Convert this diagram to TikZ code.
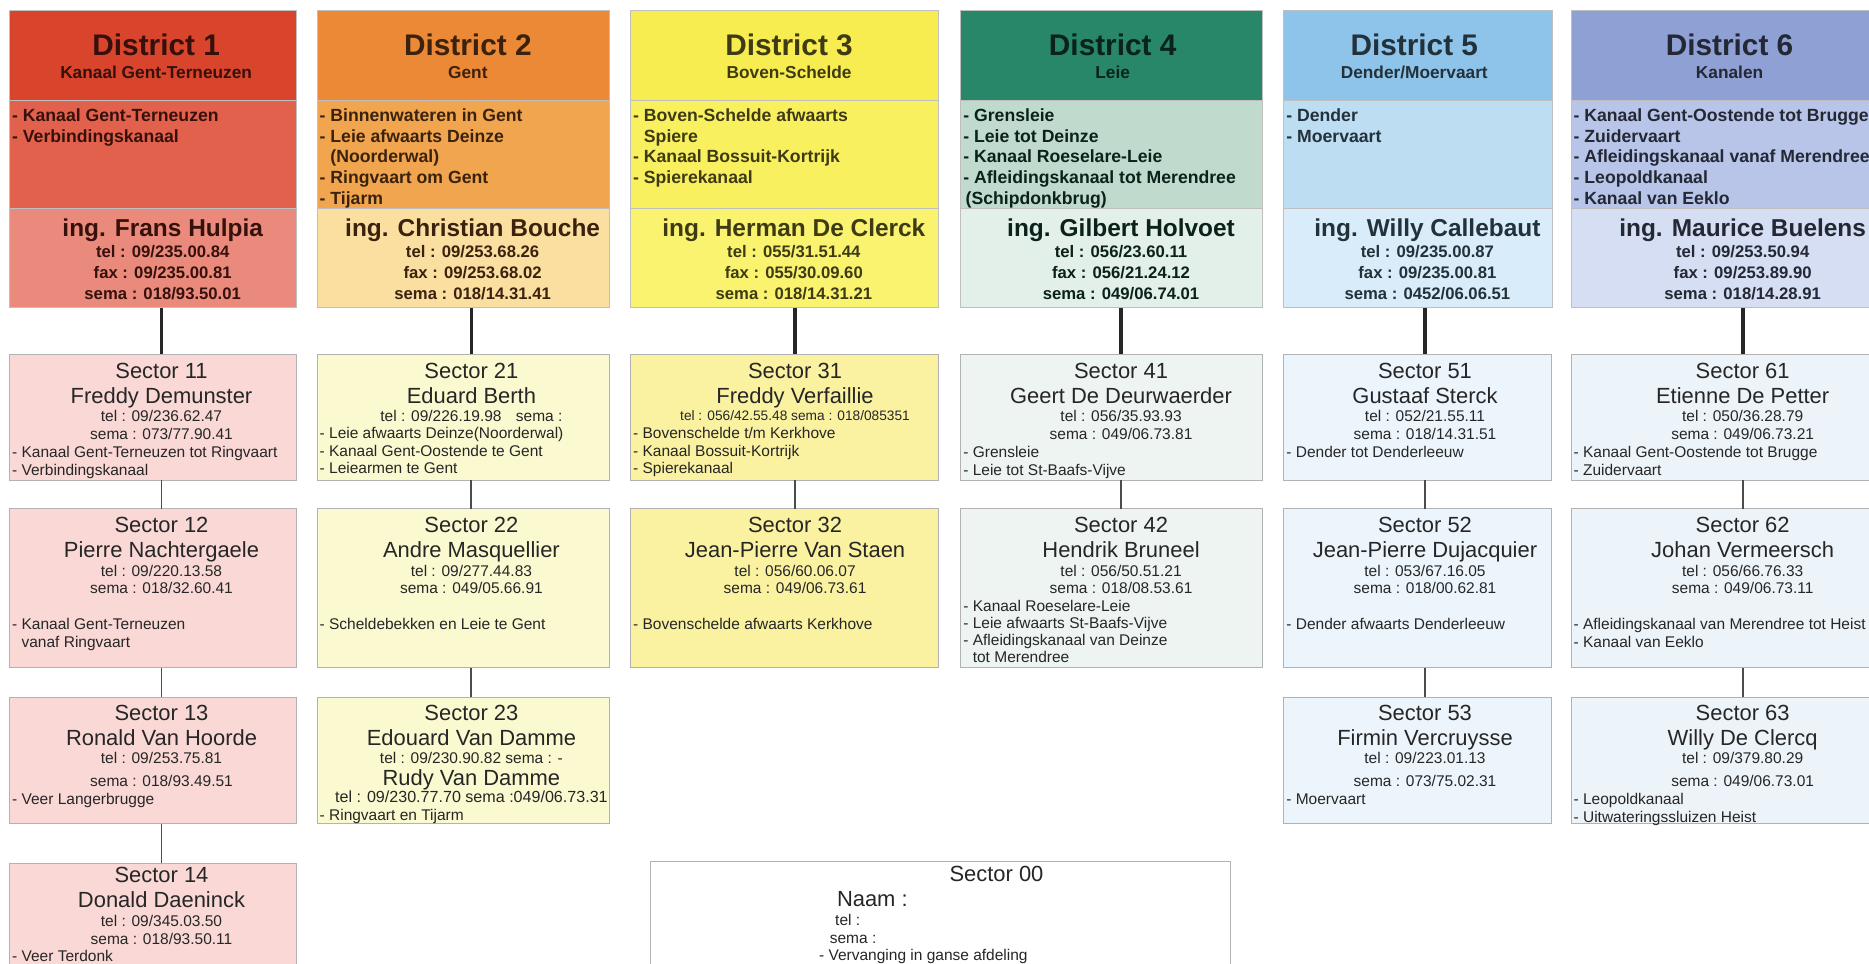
\documentclass[tikz,border=0pt]{standalone}
\usepackage{fontspec}
\setmainfont{Liberation Sans}
\usepackage{tikz}
\usetikzlibrary{calc}
\definecolor{d1top}{RGB}{217,68,44}
\definecolor{d1mid}{RGB}{226,97,76}
\definecolor{d1low}{RGB}{234,138,124}
\definecolor{d2top}{RGB}{235,137,54}
\definecolor{d2mid}{RGB}{241,165,78}
\definecolor{d2low}{RGB}{250,223,160}
\definecolor{d3top}{RGB}{248,237,80}
\definecolor{d3mid}{RGB}{249,240,96}
\definecolor{d3low}{RGB}{249,243,112}
\definecolor{d4top}{RGB}{40,135,105}
\definecolor{d4mid}{RGB}{192,219,206}
\definecolor{d4low}{RGB}{227,239,233}
\definecolor{d5top}{RGB}{142,196,234}
\definecolor{d5mid}{RGB}{189,221,243}
\definecolor{d5low}{RGB}{217,236,249}
\definecolor{d6top}{RGB}{143,161,212}
\definecolor{d6mid}{RGB}{184,197,232}
\definecolor{d6low}{RGB}{213,222,243}
\definecolor{s1}{RGB}{249,216,214}
\definecolor{s2}{RGB}{251,249,207}
\definecolor{s3}{RGB}{250,242,160}
\definecolor{s4}{RGB}{238,244,241}
\definecolor{s5}{RGB}{236,245,251}
\definecolor{s6}{RGB}{236,243,249}

\begin{document}
\begin{tikzpicture}[x=1pt,y=-1pt]
        \tikzset{
                band/.style={fill=#1, draw=black!25, line width=0.6pt, inner sep=0pt, outer sep=0pt, anchor=north west},
                sbox/.style={fill=#1, draw=black!30, line width=0.8pt, inner sep=0pt, outer sep=0pt, anchor=north west},
                dtitle/.style={text=#1!25!black, font=\bfseries\fontsize{25}{28}\selectfont, inner sep=0pt, anchor=base},
                dsub/.style={text=#1!25!black, font=\bfseries\fontsize{14.5}{17.4}\selectfont, inner sep=0pt, anchor=base},
                dlist/.style={text=#1!25!black, font=\bfseries\fontsize{14.8}{17.4}\selectfont, inner sep=0pt, anchor=north west, align=left},
                ding/.style={text=#1!25!black, font=\bfseries\fontsize{20.5}{24}\selectfont, inner sep=0pt, anchor=base},
                dtel/.style={text=#1!25!black, font=\bfseries\fontsize{14}{17.4}\selectfont, inner sep=0pt, anchor=north, align=center},
                shead/.style={text=black!85, font=\fontsize{18.4}{21}\selectfont, inner sep=0pt, anchor=north, align=center},
                stel/.style={text=black!85, font=\fontsize{13}{14.8}\selectfont, inner sep=0pt, anchor=north, align=center},
                slist/.style={text=black!85, font=\fontsize{13}{14.8}\selectfont, inner sep=0pt, anchor=north west, align=left},
                link/.style={draw=black!85, line width=3.2pt},
                sublink/.style={draw=black!70, line width=1.6pt}
        }
        \useasboundingbox (0,0) rectangle (1568,808);
        \clip (0,0) rectangle (1568,808);

        %District 1
        \node[band=d1top, minimum width=241, minimum height=75] (d1h) at (8,9) {};
        \node[band=d1mid, minimum width=241, minimum height=91] (d1m) at (d1h.south west) {};
        \node[band=d1low, minimum width=241, minimum height=83] (d1b) at (d1m.south west) {};
        \node[dtitle=d1top] (d1t) at ($(d1h.north)+(2.5,37.8)$) {District 1};
        \node[dsub=d1top] (d1s) at ($(d1h.north)+(2.5,57.2)$) {Kanaal Gent-Terneuzen};
        \node[dlist=d1top] (d1l) at ($(d1m.north west)+(2,7)$) {- Kanaal Gent-Terneuzen\\- Verbindingskanaal};
        \node[ding=d1top] (d1n) at ($(d1b.north)+(8,23.5)$) {ing. Frans Hulpia};
        \node[dtel=d1top] (d1k) at ($(d1b.north)+(8,31)$) {tel : 09/235.00.84\\fax : 09/235.00.81\\sema : 018/93.50.01};

        %District 2
        \node[band=d2top, minimum width=245, minimum height=75] (d2h) at (266,9) {};
        \node[band=d2mid, minimum width=245, minimum height=91] (d2m) at (d2h.south west) {};
        \node[band=d2low, minimum width=245, minimum height=83] (d2b) at (d2m.south west) {};
        \node[dtitle=d2top] (d2t) at ($(d2h.north)+(4,37.8)$) {District 2};
        \node[dsub=d2top] (d2s) at ($(d2h.north)+(4,57.2)$) {Gent};
        \node[dlist=d2top] (d2l) at ($(d2m.north west)+(2,7)$) {- Binnenwateren in Gent\\- Leie afwaarts Deinze\\\hphantom{- }(Noorderwal)\\- Ringvaart om Gent\\- Tijarm};
        \node[ding=d2top] (d2n) at ($(d2b.north)+(8,23.5)$) {ing. Christian Bouche};
        \node[dtel=d2top] (d2k) at ($(d2b.north)+(8,31)$) {tel : 09/253.68.26\\fax : 09/253.68.02\\sema : 018/14.31.41};

        %District 3
        \node[band=d3top, minimum width=258, minimum height=75] (d3h) at (529,9) {};
        \node[band=d3mid, minimum width=258, minimum height=91] (d3m) at (d3h.south west) {};
        \node[band=d3low, minimum width=258, minimum height=83] (d3b) at (d3m.south west) {};
        \node[dtitle=d3top] (d3t) at ($(d3h.north)+(4,37.8)$) {District 3};
        \node[dsub=d3top] (d3s) at ($(d3h.north)+(4,57.2)$) {Boven-Schelde};
        \node[dlist=d3top] (d3l) at ($(d3m.north west)+(2,7)$) {- Boven-Schelde afwaarts\\\hphantom{- }Spiere\\- Kanaal Bossuit-Kortrijk\\- Spierekanaal};
        \node[ding=d3top] (d3n) at ($(d3b.north)+(8,23.5)$) {ing. Herman De Clerck};
        \node[dtel=d3top] (d3k) at ($(d3b.north)+(8,31)$) {tel : 055/31.51.44\\fax : 055/30.09.60\\sema : 018/14.31.21};

        %District 4
        \node[band=d4top, minimum width=253, minimum height=75] (d4h) at (806,9) {};
        \node[band=d4mid, minimum width=253, minimum height=91] (d4m) at (d4h.south west) {};
        \node[band=d4low, minimum width=253, minimum height=83] (d4b) at (d4m.south west) {};
        \node[dtitle=d4top] (d4t) at ($(d4h.north)+(1,37.8)$) {District 4};
        \node[dsub=d4top] (d4s) at ($(d4h.north)+(1,57.2)$) {Leie};
        \node[dlist=d4top] (d4l) at ($(d4m.north west)+(2,7)$) {- Grensleie\\- Leie tot Deinze\\- Kanaal Roeselare-Leie\\- Afleidingskanaal tot Merendree\\\hspace{2pt}(Schipdonkbrug)};
        \node[ding=d4top] (d4n) at ($(d4b.north)+(8,23.5)$) {ing. Gilbert Holvoet};
        \node[dtel=d4top] (d4k) at ($(d4b.north)+(8,31)$) {tel : 056/23.60.11\\fax : 056/21.24.12\\sema : 049/06.74.01};

        %District 5
        \node[band=d5top, minimum width=225, minimum height=75] (d5h) at (1077,9) {};
        \node[band=d5mid, minimum width=225, minimum height=91] (d5m) at (d5h.south west) {};
        \node[band=d5low, minimum width=225, minimum height=83] (d5b) at (d5m.south west) {};
        \node[dtitle=d5top] (d5t) at ($(d5h.north)+(-3,37.8)$) {District 5};
        \node[dsub=d5top] (d5s) at ($(d5h.north)+(-3,57.2)$) {Dender/Moervaart};
        \node[dlist=d5top] (d5l) at ($(d5m.north west)+(2,7)$) {- Dender\\- Moervaart};
        \node[ding=d5top] (d5n) at ($(d5b.north)+(8,23.5)$) {ing. Willy Callebaut};
        \node[dtel=d5top] (d5k) at ($(d5b.north)+(8,31)$) {tel : 09/235.00.87\\fax : 09/235.00.81\\sema : 0452/06.06.51};

        %District 6
        \node[band=d6top, minimum width=270, minimum height=75] (d6h) at (1318,9) {};
        \node[band=d6mid, minimum width=270, minimum height=91] (d6m) at (d6h.south west) {};
        \node[band=d6low, minimum width=270, minimum height=83] (d6b) at (d6m.south west) {};
        \node[dtitle=d6top] (d6t) at ($(d6h.north)+(-2,37.8)$) {District 6};
        \node[dsub=d6top] (d6s) at ($(d6h.north)+(-2,57.2)$) {Kanalen};
        \node[dlist=d6top] (d6l) at ($(d6m.north west)+(2,7)$) {- Kanaal Gent-Oostende tot Brugge\\- Zuidervaart\\- Afleidingskanaal vanaf Merendree\\- Leopoldkanaal\\- Kanaal van Eeklo};
        \node[ding=d6top] (d6n) at ($(d6b.north)+(9,23.5)$) {ing. Maurice Buelens};
        \node[dtel=d6top] (d6k) at ($(d6b.north)+(9,31)$) {tel : 09/253.50.94\\fax : 09/253.89.90\\sema : 018/14.28.91};

        %Sectors 1x
        \node[sbox=s1, minimum width=241, minimum height=106] (s11) at (8,297) {};
        \node[shead] (s11h) at ($(s11.north)+(7,7.5)$) {Sector 11\\Freddy Demunster};
        \node[stel] (s11k) at ($(s11.north)+(7,47.3)$) {tel : 09/236.62.47\\sema : 073/77.90.41};
        \node[slist] (s11l) at ($(s11.north west)+(2,77.3)$) {- Kanaal Gent-Terneuzen tot Ringvaart\\- Verbindingskanaal};
        \node[sbox=s1, minimum width=241, minimum height=133] (s12) at (8,427) {};
        \node[shead] (s12h) at ($(s12.north)+(7,6.5)$) {Sector 12\\Pierre Nachtergaele};
        \node[stel] (s12k) at ($(s12.north)+(7,46.9)$) {tel : 09/220.13.58\\sema : 018/32.60.41};
        \node[slist] (s12l) at ($(s12.north west)+(2,91.4)$) {- Kanaal Gent-Terneuzen\\\hphantom{- }vanaf Ringvaart};
        \node[sbox=s1, minimum width=241, minimum height=106] (s13) at (8,585) {};
        \node[shead] (s13h) at ($(s13.north)+(7,6)$) {Sector 13\\Ronald Van Hoorde};
        \node[stel] (s13k) at ($(s13.north)+(7,46.3)$) {tel : 09/253.75.81\\[4.5pt]sema : 018/93.49.51};
        \node[slist] (s13l) at ($(s13.north west)+(2,80.4)$) {- Veer Langerbrugge};
        \node[sbox=s1, minimum width=241, minimum height=120] (s14) at (8,724) {};
        \node[shead] (s14h) at ($(s14.north)+(7,3.5)$) {Sector 14\\Donald Daeninck};
        \node[stel] (s14k) at ($(s14.north)+(7,43.9)$) {tel : 09/345.03.50\\sema : 018/93.50.11};
        \node[slist] (s14l) at ($(s14.north west)+(2,73.4)$) {- Veer Terdonk};

        %Sectors 2x
        \node[sbox=s2, minimum width=245, minimum height=106] (s21) at (266,297) {};
        \node[shead] (s21h) at ($(s21.north)+(7,7.5)$) {Sector 21\\Eduard Berth};
        \node[stel] (s21k) at ($(s21.north)+(7,47.3)$) {tel : 09/226.19.98\hspace{12pt}sema :};
        \node[slist] (s21l) at ($(s21.north west)+(2,61.4)$) {- Leie afwaarts Deinze(Noorderwal)\\- Kanaal Gent-Oostende te Gent\\- Leiearmen te Gent};
        \node[sbox=s2, minimum width=245, minimum height=133] (s22) at (266,427) {};
        \node[shead] (s22h) at ($(s22.north)+(7,6.5)$) {Sector 22\\Andre Masquellier};
        \node[stel] (s22k) at ($(s22.north)+(7,46.9)$) {tel : 09/277.44.83\\sema : 049/05.66.91};
        \node[slist] (s22l) at ($(s22.north west)+(2,91.4)$) {- Scheldebekken en Leie te Gent};
        \node[sbox=s2, minimum width=245, minimum height=106] (s23) at (266,585) {};
        \node[shead] (s23h) at ($(s23.north)+(7,6)$) {Sector 23\\Edouard Van Damme};
        \node[stel] (s23k) at ($(s23.north)+(7,46.3)$) {tel : 09/230.90.82 sema : -};
        \node[shead] (s23r) at ($(s23.north)+(7,60.4)$) {Rudy Van Damme};
        \node[stel, font=\fontsize{13.5}{15}\selectfont] (s23j) at ($(s23.north)+(7,78.2)$) {tel : 09/230.77.70 sema :049/06.73.31};
        \node[slist] (s23l) at ($(s23.north west)+(2,93.4)$) {- Ringvaart en Tijarm};

        %Sectors 3x
        \node[sbox=s3, minimum width=258, minimum height=106] (s31) at (529,297) {};
        \node[shead] (s31h) at ($(s31.north)+(9,7.5)$) {Sector 31\\Freddy Verfaillie};
        \node[stel, font=\fontsize{11.5}{14}\selectfont] (s31k) at ($(s31.north)+(9,47.3)$) {tel : 056/42.55.48 sema : 018/085351};
        \node[slist] (s31l) at ($(s31.north west)+(2,61.4)$) {- Bovenschelde t/m Kerkhove\\- Kanaal Bossuit-Kortrijk\\- Spierekanaal};
        \node[sbox=s3, minimum width=258, minimum height=133] (s32) at (529,427) {};
        \node[shead] (s32h) at ($(s32.north)+(9,6.5)$) {Sector 32\\Jean-Pierre Van Staen};
        \node[stel] (s32k) at ($(s32.north)+(9,46.9)$) {tel : 056/60.06.07\\sema : 049/06.73.61};
        \node[slist] (s32l) at ($(s32.north west)+(2,91.4)$) {- Bovenschelde afwaarts Kerkhove};

        %Sectors 4x
        \node[sbox=s4, minimum width=253, minimum height=106] (s41) at (806,297) {};
        \node[shead] (s41h) at ($(s41.north)+(8,7.5)$) {Sector 41\\Geert De Deurwaerder};
        \node[stel] (s41k) at ($(s41.north)+(8,47.3)$) {tel : 056/35.93.93\\sema : 049/06.73.81};
        \node[slist] (s41l) at ($(s41.north west)+(2,77.3)$) {- Grensleie\\- Leie tot St-Baafs-Vijve};
        \node[sbox=s4, minimum width=253, minimum height=133] (s42) at (806,427) {};
        \node[shead] (s42h) at ($(s42.north)+(8,6.5)$) {Sector 42\\Hendrik Bruneel};
        \node[stel] (s42k) at ($(s42.north)+(8,46.9)$) {tel : 056/50.51.21\\sema : 018/08.53.61};
        \node[slist, font=\fontsize{13}{14.5}\selectfont] (s42l) at ($(s42.north west)+(2,76)$) {- Kanaal Roeselare-Leie\\- Leie afwaarts St-Baafs-Vijve\\- Afleidingskanaal van Deinze\\\hphantom{- }tot Merendree};

        %Sectors 5x
        \node[sbox=s5, minimum width=225, minimum height=106] (s51) at (1077,297) {};
        \node[shead] (s51h) at ($(s51.north)+(6,7.5)$) {Sector 51\\Gustaaf Sterck};
        \node[stel] (s51k) at ($(s51.north)+(6,47.3)$) {tel : 052/21.55.11\\sema : 018/14.31.51};
        \node[slist] (s51l) at ($(s51.north west)+(2,77.3)$) {- Dender tot Denderleeuw};
        \node[sbox=s5, minimum width=225, minimum height=133] (s52) at (1077,427) {};
        \node[shead] (s52h) at ($(s52.north)+(6,6.5)$) {Sector 52\\Jean-Pierre Dujacquier};
        \node[stel] (s52k) at ($(s52.north)+(6,46.9)$) {tel : 053/67.16.05\\sema : 018/00.62.81};
        \node[slist] (s52l) at ($(s52.north west)+(2,91.4)$) {- Dender afwaarts Denderleeuw};
        \node[sbox=s5, minimum width=225, minimum height=106] (s53) at (1077,585) {};
        \node[shead] (s53h) at ($(s53.north)+(6,6)$) {Sector 53\\Firmin Vercruysse};
        \node[stel] (s53k) at ($(s53.north)+(6,46.3)$) {tel : 09/223.01.13\\[4.5pt]sema : 073/75.02.31};
        \node[slist] (s53l) at ($(s53.north west)+(2,80.4)$) {- Moervaart};

        %Sectors 6x
        \node[sbox=s6, minimum width=270, minimum height=106] (s61) at (1318,297) {};
        \node[shead] (s61h) at ($(s61.north)+(9,7.5)$) {Sector 61\\Etienne De Petter};
        \node[stel] (s61k) at ($(s61.north)+(9,47.3)$) {tel : 050/36.28.79\\sema : 049/06.73.21};
        \node[slist] (s61l) at ($(s61.north west)+(2,77.3)$) {- Kanaal Gent-Oostende tot Brugge\\- Zuidervaart};
        \node[sbox=s6, minimum width=270, minimum height=133] (s62) at (1318,427) {};
        \node[shead] (s62h) at ($(s62.north)+(9,6.5)$) {Sector 62\\Johan Vermeersch};
        \node[stel] (s62k) at ($(s62.north)+(9,46.9)$) {tel : 056/66.76.33\\sema : 049/06.73.11};
        \node[slist] (s62l) at ($(s62.north west)+(2,91.4)$) {- Afleidingskanaal van Merendree tot Heist\\- Kanaal van Eeklo};
        \node[sbox=s6, minimum width=270, minimum height=106] (s63) at (1318,585) {};
        \node[shead] (s63h) at ($(s63.north)+(9,6)$) {Sector 63\\Willy De Clercq};
        \node[stel] (s63k) at ($(s63.north)+(9,46.3)$) {tel : 09/379.80.29\\[4.5pt]sema : 049/06.73.01};
        \node[slist] (s63l) at ($(s63.north west)+(2,80.4)$) {- Leopoldkanaal\\- Uitwateringssluizen Heist};

        %Sector 00
        \node[sbox=white, minimum width=486, minimum height=120] (s00) at (546,723) {};
        \node[shead, anchor=base] (s00h) at ($(s00.north west)+(290,16.5)$) {Sector 00};
        \node[shead, anchor=base west] (s00n) at ($(s00.north west)+(156,37.6)$) {Naam :};
        \node[stel, anchor=base west] (s00t) at ($(s00.north west)+(154.5,53.7)$) {tel :};
        \node[stel, anchor=base west] (s00s) at ($(s00.north west)+(150,68.7)$) {sema :};
        \node[slist, anchor=base west] (s00l) at ($(s00.north west)+(141,82.7)$) {- Vervanging in ganse afdeling};

        %connectors
        \draw[link] ($(d1b.south)+(7,0)$) -- ($(s11.north)+(7,0)$);
        \draw[link] ($(d2b.south)+(7,0)$) -- ($(s21.north)+(7,0)$);
        \draw[link] ($(d3b.south)+(9,0)$) -- ($(s31.north)+(9,0)$);
        \draw[link] ($(d4b.south)+(8,0)$) -- ($(s41.north)+(8,0)$);
        \draw[link] ($(d5b.south)+(6,0)$) -- ($(s51.north)+(6,0)$);
        \draw[link] ($(d6b.south)+(9,0)$) -- ($(s61.north)+(9,0)$);
        \draw[sublink] ($(s11.south)+(7,0)$) -- ($(s12.north)+(7,0)$);
        \draw[sublink] ($(s12.south)+(7,0)$) -- ($(s13.north)+(7,0)$);
        \draw[sublink] ($(s13.south)+(7,0)$) -- ($(s14.north)+(7,0)$);
        \draw[sublink] ($(s21.south)+(7,0)$) -- ($(s22.north)+(7,0)$);
        \draw[sublink] ($(s22.south)+(7,0)$) -- ($(s23.north)+(7,0)$);
        \draw[sublink] ($(s31.south)+(9,0)$) -- ($(s32.north)+(9,0)$);
        \draw[sublink] ($(s41.south)+(8,0)$) -- ($(s42.north)+(8,0)$);
        \draw[sublink] ($(s51.south)+(6,0)$) -- ($(s52.north)+(6,0)$);
        \draw[sublink] ($(s52.south)+(6,0)$) -- ($(s53.north)+(6,0)$);
        \draw[sublink] ($(s61.south)+(9,0)$) -- ($(s62.north)+(9,0)$);
        \draw[sublink] ($(s62.south)+(9,0)$) -- ($(s63.north)+(9,0)$);
\end{tikzpicture}
\end{document}
